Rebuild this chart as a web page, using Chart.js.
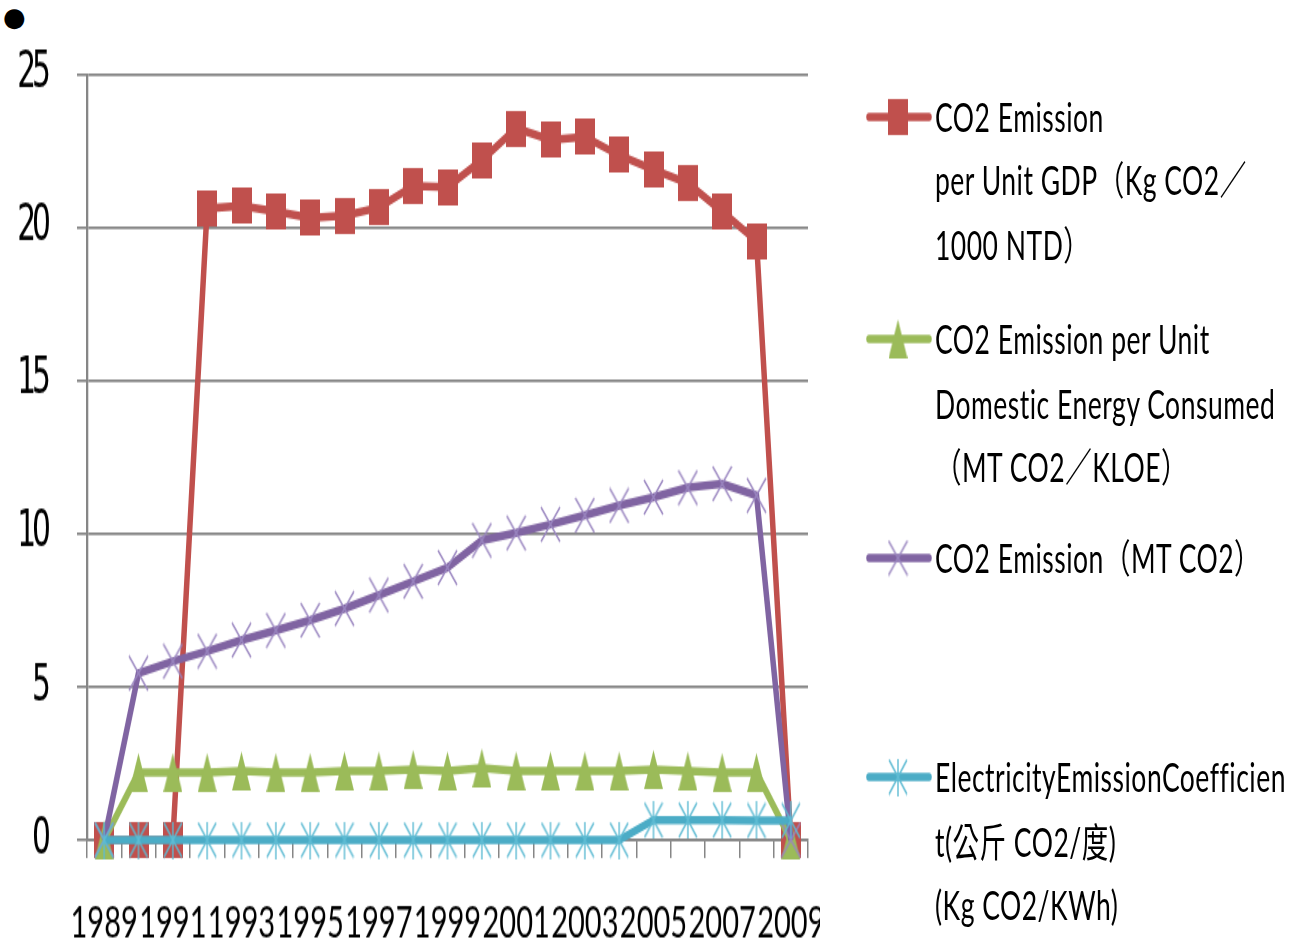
<!DOCTYPE html>
<html>
<head>
<meta charset="utf-8">
<script src="https://cdn.jsdelivr.net/npm/chart.js@4.4.1/dist/chart.umd.min.js"></script>
<style>
  html, body { margin: 0; padding: 0; background: #fff; }
  body { width: 1306px; height: 941px; overflow: hidden; position: relative; }
  #bullet { position: absolute; left: 3px; top: 4px; font: 26px/26px 'DejaVu Sans', sans-serif; color: #000; }
  /* the original picture is stretched vertically, so the whole chart is drawn short and scaled up */
  #stage { position: absolute; left: 0; top: 0; width: 1306px; height: 627px; transform: scaleY(1.5); transform-origin: 0 0; }
  #clip { position: absolute; left: 0; top: 0; width: 820px; height: 627px; overflow: hidden; }
  #chartBox { position: relative; width: 860px; height: 627px; }
  #legend { position: absolute; left: 866px; top: 0; width: 440px; height: 627px;
            font-family: Lato, 'Noto Sans CJK TC', sans-serif; font-size: 26.5px; letter-spacing: 0.5px;
            line-height: 42.5px; color: #000; }
  .entry { position: absolute; left: 0; white-space: nowrap; }
  .entry canvas { position: absolute; left: 0; top: 6px; }
  .entry .txt { position: absolute; left: 69px; top: 0; }
</style>
</head>
<body>
<div id="bullet">●</div>
<div id="stage">
  <div id="clip"><div id="chartBox"><canvas id="co2Chart"></canvas></div></div>
  <div id="legend"></div>
</div>
<script>
const years = ['1989', '1990', '1991', '1992', '1993', '1994', '1995', '1996', '1997', '1998', '1999',
               '2000', '2001', '2002', '2003', '2004', '2005', '2006', '2007', '2008', '2009'];

// CO2 emission per unit GDP (Kg CO2 / 1000 NTD)
const gdpIntensity = [0, 0, 0, 20.63, 20.71, 20.53, 20.32, 20.40, 20.66, 21.36, 21.33,
                      22.21, 23.25, 22.87, 22.97, 22.37, 21.90, 21.46, 20.53, 19.57, 0];
// CO2 emission per unit domestic energy consumed (MT CO2 / KLOE)
const energyIntensity = [0, 2.2, 2.2, 2.2, 2.25, 2.2, 2.2, 2.25, 2.25, 2.3, 2.25,
                         2.35, 2.25, 2.25, 2.25, 2.25, 2.3, 2.25, 2.2, 2.2, 0];
// CO2 emission (MT CO2)
const co2Total = [0, 5.45, 5.84, 6.17, 6.53, 6.85, 7.18, 7.56, 8.00, 8.45, 8.90,
                  9.79, 10.03, 10.31, 10.61, 10.93, 11.20, 11.51, 11.64, 11.26, 0];
// electricity emission coefficient (Kg CO2 / KWh)
const elecCoefficient = [0, 0, 0, 0, 0, 0, 0, 0, 0, 0, 0,
                         0, 0, 0, 0, 0, 0.65, 0.65, 0.65, 0.64, 0.64];

const yTicks = { min: 0, max: 25, step: 5 };

const legendLabels = [
    ['CO2 Emission', 'per Unit GDP（Kg CO2／', '1000 NTD）'],
    ['CO2 Emission per Unit', 'Domestic Energy Consumed', '（MT CO2／KLOE）'],
    ['CO2 Emission（MT CO2）'],
    ['ElectricityEmissionCoefficien', 't(公斤 CO2/度)', '(Kg CO2/KWh)']
];

const RED = '#C0504D';
const GREEN = '#9BBB59';
const PURPLE = '#8064A2';
const CYAN = '#4BACC6';
const GRID = '#868686';
const LINE_W = 5.5;

// Small canvases used as point styles
function makeMarker(w, h, draw) {
    const c = document.createElement('canvas');
    c.width = w;
    c.height = h;
    draw(c.getContext('2d'), w, h);
    return c;
}

const redMarker = makeMarker(20, 24, (g, w, h) => {
    g.fillStyle = RED;
    g.fillRect(0, 0, w, h);
});
const greenMarker = makeMarker(19, 26, (g, w, h) => {
    g.fillStyle = GREEN;
    g.beginPath();
    g.moveTo(w / 2, 0);
    g.lineTo(w, h);
    g.lineTo(0, h);
    g.closePath();
    g.fill();
});
const purpleMarker = makeMarker(21, 25, (g, w, h) => {
    g.strokeStyle = '#9A86C0';
    g.lineWidth = 1.4;
    g.beginPath();
    g.moveTo(1, 1); g.lineTo(w - 1, h - 1);
    g.moveTo(w - 1, 1); g.lineTo(1, h - 1);
    g.stroke();
});
const cyanMarker = makeMarker(20, 25, (g, w, h) => {
    g.strokeStyle = '#5EBBD3';
    g.lineWidth = 1.4;
    g.beginPath();
    g.moveTo(1, 1); g.lineTo(w - 1, h - 1);
    g.moveTo(w - 1, 1); g.lineTo(1, h - 1);
    g.moveTo(w / 2, 0); g.lineTo(w / 2, h);
    g.stroke();
});

const seriesStyles = [
    { color: RED, marker: redMarker },
    { color: GREEN, marker: greenMarker },
    { color: PURPLE, marker: purpleMarker },
    { color: CYAN, marker: cyanMarker }
];

function makeDataset(label, data, idx) {
    const st = seriesStyles[idx];
    return {
        label: label,
        data: data,
        borderColor: st.color,
        backgroundColor: st.color,
        borderWidth: LINE_W,
        pointStyle: st.marker,
        pointRadius: 10,
        tension: 0,
        clip: false,
        order: 4 - idx   // later series drawn on top, like the original
    };
}

new Chart(document.getElementById('co2Chart'), {
    type: 'line',
    data: {
        labels: years,
        datasets: [
            makeDataset(legendLabels[0].join(''), gdpIntensity, 0),
            makeDataset(legendLabels[1].join(' '), energyIntensity, 1),
            makeDataset(legendLabels[2].join(''), co2Total, 2),
            makeDataset(legendLabels[3].join(''), elecCoefficient, 3)
        ]
    },
    options: {
        responsive: true,
        maintainAspectRatio: false,
        animation: false,
        layout: { padding: { left: 0, right: 52, top: 49.33, bottom: 0 } },
        plugins: { legend: { display: false }, tooltip: { enabled: false } },
        scales: {
            x: {
                offset: true,
                grid: { offset: true, drawOnChartArea: false, drawTicks: true, tickLength: 12, color: GRID, lineWidth: 1.5 },
                border: { display: true, color: GRID, width: 1.7 },
                ticks: {
                    autoSkip: false,
                    maxRotation: 0,
                    minRotation: 0,
                    padding: 26,
                    color: '#000',
                    font: { family: 'Lato, sans-serif', size: 29 },
                    callback: (value, index) => (index % 2 === 0 ? years[index] : '')
                },
                afterFit: scale => { scale.height = 67; }
            },
            y: {
                min: yTicks.min,
                max: yTicks.max,
                ticks: {
                    stepSize: yTicks.step,
                    padding: 30,
                    color: '#000',
                    font: { family: "'DejaVu Sans Condensed', sans-serif", size: 33 }
                },
                grid: { color: GRID, lineWidth: 1.7, tickLength: 10 },
                border: { color: GRID, width: 2.3 },
                afterFit: scale => {
                    scale.width = 87;
                    // the original y labels are tightly set: squeeze the digits together
                    if (!scale._tight) {
                        const drawLabels = scale.drawLabels.bind(scale);
                        scale.drawLabels = area => {
                            scale.ctx.save();
                            scale.ctx.letterSpacing = '-4px';
                            drawLabels(area);
                            scale.ctx.restore();
                        };
                        scale._tight = true;
                    }
                }
            }
        }
    }
});

// HTML legend on the right
const legendTops = [56.75, 205.4, 350.7, 497.4];
const legendEl = document.getElementById('legend');
legendLabels.forEach((lines, i) => {
    const entry = document.createElement('div');
    entry.className = 'entry';
    entry.style.top = legendTops[i] + 'px';

    const sample = document.createElement('canvas');
    sample.width = 66;
    sample.height = 30;
    const g = sample.getContext('2d');
    g.strokeStyle = seriesStyles[i].color;
    g.lineWidth = LINE_W;
    g.lineCap = 'round';
    g.beginPath();
    g.moveTo(3, 15);
    g.lineTo(63, 15);
    g.stroke();
    const m = seriesStyles[i].marker;
    g.drawImage(m, 32 - m.width / 2, 15 - m.height / 2);
    entry.appendChild(sample);

    const txt = document.createElement('div');
    txt.className = 'txt';
    txt.innerHTML = lines.join('<br>');
    entry.appendChild(txt);
    legendEl.appendChild(entry);
});
</script>
</body>
</html>
